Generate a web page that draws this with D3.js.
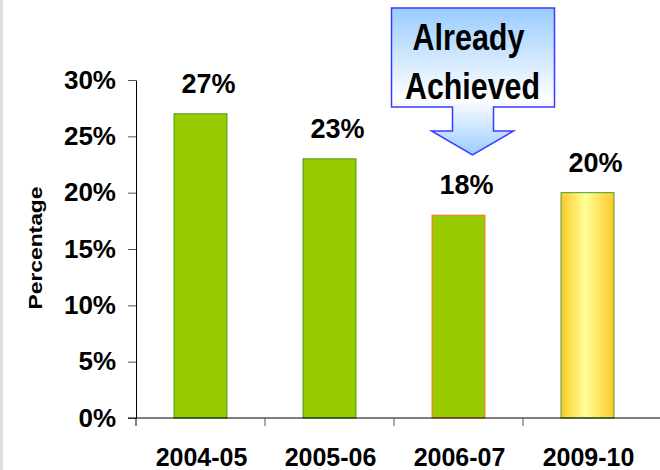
<!DOCTYPE html>
<html>
<head>
<meta charset="utf-8">
<script src="https://cdn.jsdelivr.net/npm/d3@7"></script>
<style>
  body { margin: 0; background: #fff; }
  text { font-family: "Liberation Sans", Arial, sans-serif; font-weight: bold; fill: #000; }
</style>
</head>
<body>
<svg width="660" height="470"></svg>
<script>
// data
var years = ["2004-05", "2005-06", "2006-07", "2009-10"];
var shares = [0.27, 0.23, 0.18, 0.20];
var yTicks = [0, 0.05, 0.10, 0.15, 0.20, 0.25, 0.30];

var svg = d3.select("svg");

// light grey strip at the left edge
svg.append("rect").attr("x", 0).attr("y", 0).attr("width", 3).attr("height", 470).attr("fill", "#dedede");

var x = d3.scaleBand()
          .domain(years)
          .range([136, 652])
          .paddingInner(0.59)
          .paddingOuter(0.295);
var y = d3.scaleLinear()
          .domain([0, 0.30])
          .range([418, 80]);

var defs = svg.append("defs");
var gold = defs.append("linearGradient").attr("id", "gold")
  .attr("x1", "0%").attr("x2", "100%").attr("y1", "0%").attr("y2", "0%");
gold.append("stop").attr("offset", "0%").attr("stop-color", "#ffc926");
gold.append("stop").attr("offset", "45%").attr("stop-color", "#ffff99");
gold.append("stop").attr("offset", "100%").attr("stop-color", "#ffc926");

var sky = defs.append("linearGradient").attr("id", "sky")
  .attr("x1", "0%").attr("x2", "0%").attr("y1", "0%").attr("y2", "100%");
sky.append("stop").attr("offset", "0%").attr("stop-color", "#99ccff");
sky.append("stop").attr("offset", "62%").attr("stop-color", "#ffffff");
sky.append("stop").attr("offset", "100%").attr("stop-color", "#99ccff");

// y axis
var gy = svg.append("g")
  .attr("transform", "translate(136,0)")
  .call(d3.axisLeft(y).tickValues(yTicks).tickFormat(d3.format(".0%")).tickSize(8).tickPadding(12).tickSizeOuter(0));
gy.select(".domain").attr("stroke", "#000");
gy.selectAll(".tick line").attr("stroke", "#555");
gy.selectAll(".tick text").style("font-size", "26px").attr("fill", "#000");

svg.append("text")
  .attr("transform", "translate(35,248) rotate(-90)")
  .attr("text-anchor", "middle")
  .attr("dominant-baseline", "central")
  .attr("textLength", 123)
  .attr("lengthAdjust", "spacingAndGlyphs")
  .style("font-size", "19px")
  .text("Percentage");

// bars
svg.selectAll(".bar")
  .data(years)
  .enter().append("rect")
    .attr("class", "bar")
    .attr("x", d => x(d))
    .attr("y", (d, i) => y(shares[i]))
    .attr("width", x.bandwidth())
    .attr("height", (d, i) => y(0) - y(shares[i]))
    .attr("fill", (d, i) => i === 3 ? "url(#gold)" : "#99cc00")
    .attr("stroke", (d, i) => i === 2 ? "#ff6a2a" : (i === 3 ? "#44a033" : "#3f9a10"))
    .attr("stroke-width", 1);

// value labels
svg.selectAll(".val")
  .data(years)
  .enter().append("text")
    .attr("class", "val")
    .attr("x", d => x(d) + x.bandwidth() / 2 + 8)
    .attr("y", (d, i) => y(shares[i]) - 21)
    .attr("text-anchor", "middle")
    .style("font-size", "27px")
    .text((d, i) => Math.round(shares[i] * 100) + "%");

// x axis line and ticks at the band edges
svg.append("line")
  .attr("x1", 128).attr("x2", 660)
  .attr("y1", y(0)).attr("y2", y(0))
  .attr("stroke", "#000");
svg.selectAll(".xtick")
  .data(years)
  .enter().append("line")
    .attr("class", "xtick")
    .attr("x1", d => x(d) - x.step() * x.paddingInner() / 2)
    .attr("x2", d => x(d) - x.step() * x.paddingInner() / 2)
    .attr("y1", y(0)).attr("y2", y(0) + 8)
    .attr("stroke", (d, i) => i === 0 ? "#000" : "#555");
svg.selectAll(".cat")
  .data(years)
  .enter().append("text")
    .attr("class", "cat")
    .attr("x", d => x(d) + x.bandwidth() / 2 + 1)
    .attr("y", 466)
    .attr("text-anchor", "middle")
    .style("font-size", "25px")
    .text(d => d);

// "Already Achieved" callout pointing at 2006-07
var cx = x("2006-07") + x.bandwidth() / 2 + 14;
var callout = d3.path();
callout.moveTo(cx - 81, 8);
callout.lineTo(cx + 82, 8);
callout.lineTo(cx + 82, 107);
callout.lineTo(cx + 21, 107);
callout.lineTo(cx + 21, 131);
callout.lineTo(cx + 41, 131);
callout.lineTo(cx, 155);
callout.lineTo(cx - 41, 131);
callout.lineTo(cx - 20, 131);
callout.lineTo(cx - 20, 107);
callout.lineTo(cx - 81, 107);
callout.closePath();
svg.append("path")
  .attr("d", callout.toString())
  .attr("fill", "url(#sky)")
  .attr("stroke", "#3b3bff")
  .attr("stroke-width", 1.5)
  .attr("stroke-linejoin", "miter");

svg.append("text")
  .attr("x", cx - 4).attr("y", 50)
  .attr("text-anchor", "middle")
  .attr("textLength", 112)
  .attr("lengthAdjust", "spacingAndGlyphs")
  .style("font-size", "37px")
  .text("Already");
svg.append("text")
  .attr("x", cx).attr("y", 99)
  .attr("text-anchor", "middle")
  .attr("textLength", 135)
  .attr("lengthAdjust", "spacingAndGlyphs")
  .style("font-size", "37px")
  .text("Achieved");
</script>
</body>
</html>
